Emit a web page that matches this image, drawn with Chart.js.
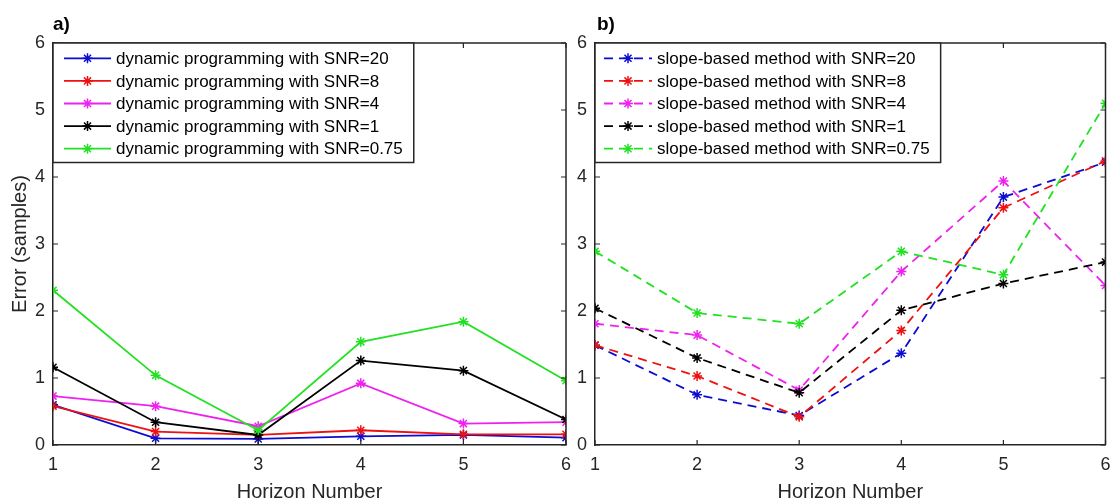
<!DOCTYPE html>
<html>
<head>
<meta charset="utf-8">
<script src="https://cdn.jsdelivr.net/npm/chart.js@4.4.1/dist/chart.umd.min.js"></script>
<style>
  html, body { margin: 0; padding: 0; background: #fff; }
  #wrap { position: relative; width: 1112px; height: 500px; overflow: hidden; background: #fff; }
  canvas { position: absolute; top: 0; }
  #chartA { left: 0; }
  #chartB { left: 568px; }
</style>
</head>
<body>
<div id="wrap">
  <canvas id="chartA" width="580" height="500" style="width:580px;height:500px"></canvas>
  <canvas id="chartB" width="544" height="500" style="width:544px;height:500px"></canvas>
</div>
<script>
// Horizon numbers on the x axis
const horizons = [1, 2, 3, 4, 5, 6];
const yTicks = [0, 1, 2, 3, 4, 5, 6];
const snrValues = ['20', '8', '4', '1', '0.75'];

// a) dynamic programming: mean error per horizon
const dpSnr20  = [0.60, 0.10, 0.09, 0.13, 0.15, 0.11];
const dpSnr8   = [0.58, 0.20, 0.15, 0.22, 0.16, 0.16];
const dpSnr4   = [0.73, 0.58, 0.28, 0.92, 0.32, 0.34];
const dpSnr1   = [1.16, 0.34, 0.15, 1.26, 1.11, 0.38];
const dpSnr075 = [2.31, 1.04, 0.22, 1.54, 1.84, 0.96];

// b) slope-based method: mean error per horizon
const sbSnr20  = [1.49, 0.75, 0.44, 1.37, 3.70, 4.22];
const sbSnr8   = [1.49, 1.03, 0.42, 1.71, 3.54, 4.24];
const sbSnr4   = [1.81, 1.64, 0.82, 2.59, 3.94, 2.38];
const sbSnr1   = [2.04, 1.30, 0.78, 2.01, 2.41, 2.73];
const sbSnr075 = [2.89, 1.97, 1.81, 2.89, 2.54, 5.10];

const seriesColors = ['#0c0cd0', '#ee1111', '#ee22ee', '#000000', '#22e022'];
const FONT = '"Liberation Sans", Arial, Helvetica, sans-serif';
const AXIS = '#262626';

function toPoints(values) {
  return horizons.map((h, i) => ({ x: h, y: values[i] }));
}

function buildDatasets(seriesList, prefix, dashed) {
  return seriesList.map((values, i) => ({
    label: prefix + snrValues[i],
    data: toPoints(values),
    borderColor: seriesColors[i],
    backgroundColor: seriesColors[i],
    borderWidth: 1.8,
    borderDash: dashed ? [9, 6] : [],
    pointStyle: 'star',
    pointRadius: 5,
    pointBorderWidth: 1.5,
    pointBorderColor: seriesColors[i],
    tension: 0,
    fill: false,
    order: seriesList.length - i
  }));
}

function drawStar(ctx, x, y, r) {
  ctx.beginPath();
  for (let k = 0; k < 4; k++) {
    const a = k * Math.PI / 4;
    ctx.moveTo(x - Math.cos(a) * r, y - Math.sin(a) * r);
    ctx.lineTo(x + Math.cos(a) * r, y + Math.sin(a) * r);
  }
  ctx.stroke();
}

// Box, inward ticks, in-plot legend and panel letter
const framePlugin = {
  id: 'frame',
  afterDraw(chart, args, o) {
    const ctx = chart.ctx;
    const ca = chart.chartArea;
    const xs = chart.scales.x, ys = chart.scales.y;
    ctx.save();
    ctx.strokeStyle = AXIS;
    ctx.lineWidth = 1.5;
    ctx.setLineDash([]);
    ctx.beginPath();
    ctx.moveTo(ca.left, ca.top); ctx.lineTo(ca.right, ca.top);
    ctx.moveTo(ca.right, ca.top); ctx.lineTo(ca.right, ca.bottom);
    ctx.stroke();
    const tl = 5;
    ctx.lineWidth = 1.2;
    ctx.beginPath();
    horizons.forEach(h => {
      const px = xs.getPixelForValue(h);
      ctx.moveTo(px, ca.bottom); ctx.lineTo(px, ca.bottom - tl);
      ctx.moveTo(px, ca.top); ctx.lineTo(px, ca.top + tl);
    });
    yTicks.forEach(v => {
      const py = ys.getPixelForValue(v);
      ctx.moveTo(ca.left, py); ctx.lineTo(ca.left + tl, py);
      ctx.moveTo(ca.right, py); ctx.lineTo(ca.right - tl, py);
    });
    ctx.stroke();

    // legend
    const lg = o.legend;
    const ds = chart.data.datasets;
    ctx.font = '17px ' + FONT;
    let maxW = 0;
    ds.forEach(d => { maxW = Math.max(maxW, ctx.measureText(d.label).width); });
    const x0 = ca.left, y0 = ca.top;
    const w = lg.textX + maxW + 11;
    const h = 119.5;
    ctx.fillStyle = '#fff';
    ctx.fillRect(x0, y0, w, h);
    ctx.strokeStyle = AXIS;
    ctx.lineWidth = 1.5;
    ctx.strokeRect(x0, y0, w, h);
    ds.forEach((d, i) => {
      const cy = y0 + 15.3 + 22.6 * i;
      ctx.strokeStyle = d.borderColor;
      ctx.lineWidth = 1.8;
      ctx.setLineDash(d.borderDash || []);
      ctx.beginPath();
      ctx.moveTo(x0 + lg.lineFrom, cy);
      ctx.lineTo(x0 + lg.lineTo, cy);
      ctx.stroke();
      ctx.setLineDash([]);
      ctx.lineWidth = 1.5;
      drawStar(ctx, x0 + (lg.lineFrom + lg.lineTo) / 2, cy, 5);
      ctx.fillStyle = '#000';
      ctx.textAlign = 'left';
      ctx.textBaseline = 'middle';
      ctx.fillText(d.label, x0 + lg.textX, cy + 1);
    });

    // panel letter
    ctx.fillStyle = '#000';
    ctx.font = 'bold 19px ' + FONT;
    ctx.textAlign = 'left';
    ctx.textBaseline = 'alphabetic';
    ctx.fillText(o.letter, ca.left + o.letterDx, 30);
    ctx.restore();
  }
};

function panelOptions(cfg) {
  return {
    responsive: false,
    animation: false,
    devicePixelRatio: 1,
    layout: { padding: { left: 0, top: 43, right: cfg.padRight, bottom: 0 } },
    plugins: {
      legend: { display: false },
      tooltip: { enabled: false },
      frame: { legend: cfg.legend, letter: cfg.letter, letterDx: cfg.letterDx }
    },
    scales: {
      x: {
        type: 'linear',
        min: 1, max: 6,
        afterBuildTicks(s) { s.ticks = horizons.map(v => ({ value: v })); },
        ticks: { padding: 9, color: AXIS, font: { family: FONT, size: 18 }, maxRotation: 0, autoSkip: false },
        grid: { drawOnChartArea: false, drawTicks: false },
        border: { display: true, color: AXIS, width: 1.5 },
        title: { display: true, text: 'Horizon Number', color: AXIS, font: { family: FONT, size: 20 }, padding: { top: 0, bottom: -4 } },
        afterFit(s) { s.height = 55; s.paddingLeft = 0; s.paddingRight = 0; }
      },
      y: {
        type: 'linear',
        min: 0, max: 6,
        afterBuildTicks(s) { s.ticks = yTicks.map(v => ({ value: v })); },
        ticks: { padding: 8, color: AXIS, font: { family: FONT, size: 18 } },
        grid: { drawOnChartArea: false, drawTicks: false },
        border: { display: true, color: AXIS, width: 1.5 },
        title: { display: cfg.yTitle, text: 'Error (samples)', color: AXIS, font: { family: FONT, size: 20 }, padding: { top: 8, bottom: 0 } },
        afterFit(s) { s.width = cfg.yWidth; s.paddingTop = 0; s.paddingBottom = 0; }
      }
    }
  };
}

new Chart(document.getElementById('chartA'), {
  type: 'line',
  data: { datasets: buildDatasets([dpSnr20, dpSnr8, dpSnr4, dpSnr1, dpSnr075], 'dynamic programming with SNR=', false) },
  options: panelOptions({
    padRight: 14, yWidth: 53, yTitle: true, letter: 'a)', letterDx: 0,
    legend: { lineFrom: 11, lineTo: 58, textX: 63 }
  }),
  plugins: [framePlugin]
});

new Chart(document.getElementById('chartB'), {
  type: 'line',
  data: { datasets: buildDatasets([sbSnr20, sbSnr8, sbSnr4, sbSnr1, sbSnr075], 'slope-based method with SNR=', true) },
  options: panelOptions({
    padRight: 5, yWidth: 27, yTitle: false, letter: 'b)', letterDx: 2,
    legend: { lineFrom: 9, lineTo: 57, textX: 62 }
  }),
  plugins: [framePlugin]
});
</script>
</body>
</html>
